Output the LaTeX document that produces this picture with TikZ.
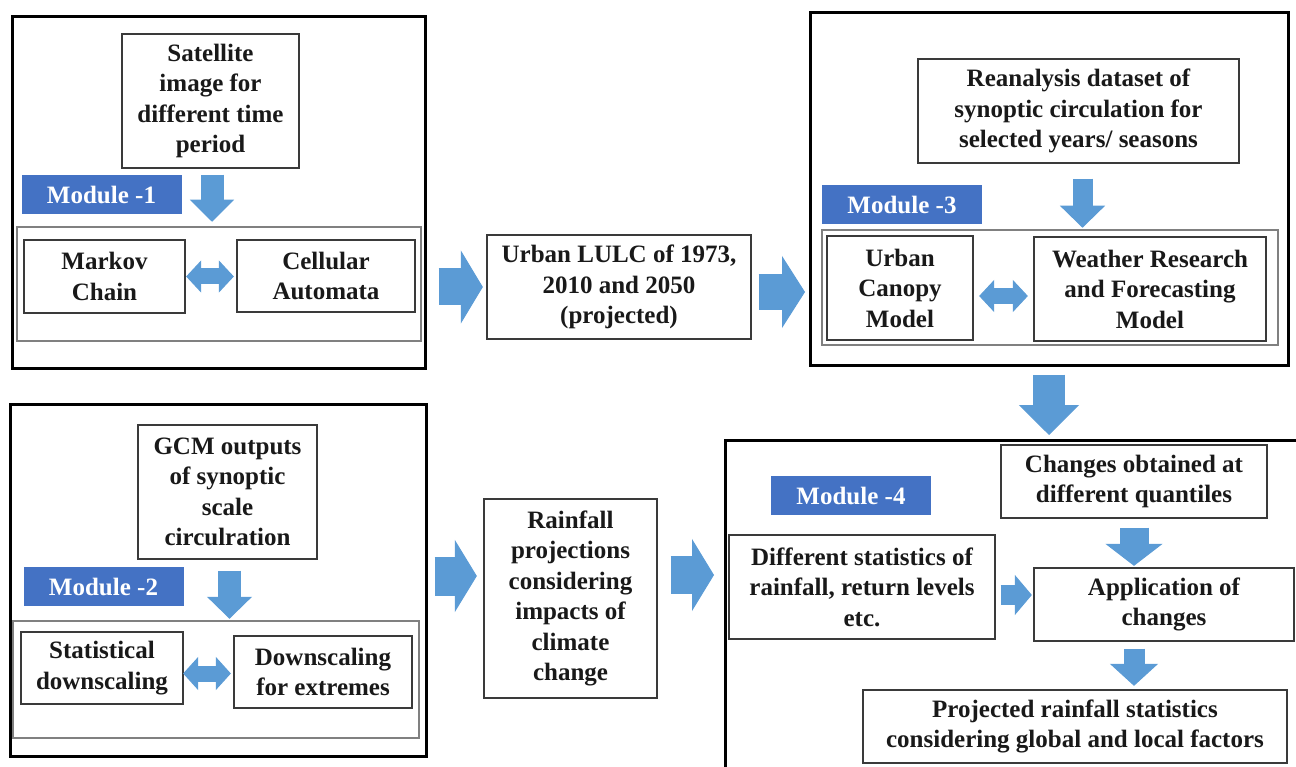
\documentclass[tikz,border=0pt]{standalone}
\usepackage{fontspec}
\setmainfont{Liberation Serif}
\usetikzlibrary{arrows.meta,positioning}
\definecolor{arrblue}{HTML}{5B9BD5}
\definecolor{modblue}{HTML}{4472C4}
\definecolor{boxgray}{HTML}{3A3A3A}

\begin{document}
\begin{tikzpicture}[
  x=1pt, y=-1pt,
  every node/.style={font=\bfseries\fontsize{25}{30.5}\selectfont,
                     align=center, inner sep=0pt, text=black!90},
  frame/.style 2 args={draw=black, line width=3pt,
                       minimum width=#1, minimum height=#2},
  inner/.style 2 args={draw=gray, line width=1.5pt,
                       minimum width=#1, minimum height=#2},
  box/.style 2 args={draw=boxgray, line width=1.3pt, fill=white,
                     minimum width=#1, minimum height=#2},
  modlab/.style={fill=modblue, text=white,
                 minimum width=160pt, minimum height=39pt},
  barrow/.style n args={3}{draw=arrblue, line width=#1,
                 -{Triangle[width=#2, length=#3, line width=1pt, sep=-1.5pt]}},
  dbarrow/.style n args={3}{draw=arrblue, line width=#1,
                 {Triangle[width=#2, length=#3, line width=1pt, sep=-1.5pt]}-{Triangle[width=#2, length=#3, line width=1pt, sep=-1.5pt]}}
]
\useasboundingbox (0,0) rectangle (1296,767);
%% module 1
\node[frame={413pt}{351pt}] (m1) at (218.5,192.5) {};
\node[inner={404pt}{114pt}] (m1in) at (219,284) {};
\node[box={177pt}{134pt}] (sat) at (210.5,101) {Satellite\\image for\\different time\\period};
\node[modlab] (mod1) at (101.5,195) {Module -1};
\node[box={161pt}{73pt}] (markov) at (104.5,276.5) {Markov\\Chain};
\node[box={178pt}{72pt}] (cell) at (326,276) {Cellular\\Automata};
\draw[barrow={23pt}{44pt}{22pt}, shorten <=6pt, shorten >=6pt]
  ([xshift=1.5pt]sat.south) -- ([xshift=1.5pt]sat.south |- m1in.north);
\draw[dbarrow={16pt}{32pt}{15pt}, shorten <=2pt, shorten >=4pt]
  (markov.east) -- (markov.east -| cell.west);
%% land use output
\node[box={264pt}{104pt}] (lulc) at (619,287) {Urban LULC of 1973,\\2010 and 2050\\(projected)};
\draw[barrow={37pt}{73pt}{22pt}, shorten <=12pt, shorten >=5pt]
  (m1.east |- lulc.west) -- (lulc.west);
%% module 3
\node[frame={478pt}{352pt}] (m3) at (1049,189) {};
\node[inner={456pt}{115pt}] (m3in) at (1050,287.5) {};
\node[box={321pt}{104pt}] (rean) at (1078.5,111) {Reanalysis dataset of\\synoptic circulation for\\selected years/ seasons};
\node[modlab] (mod3) at (902,204.5) {Module -3};
\node[box={146pt}{104pt}] (ucm) at (900,288) {Urban\\Canopy\\Model};
\node[box={232pt}{104pt}] (wrf) at (1150,289) {Weather Research\\and Forecasting\\Model};
\draw[barrow={36pt}{72pt}{23pt}, shorten <=7pt, shorten >=5pt]
  ([yshift=-5pt]lulc.east) -- ([yshift=-5pt]lulc.east -| m3.west);
\draw[barrow={20pt}{45pt}{22pt}, shorten <=15pt, shorten >=3pt]
  ([xshift=4pt]rean.south) -- ([xshift=4pt]rean.south |- m3in.north);
\draw[dbarrow={16pt}{32pt}{15pt}, shorten <=7pt, shorten >=7pt]
  ([yshift=-8pt]ucm.east) -- ([yshift=-8pt]ucm.east -| wrf.west);
%% module 2
\node[frame={416pt}{352pt}] (m2) at (218,580) {};
\node[inner={406pt}{117pt}] (m2in) at (216,679.5) {};
\node[box={179pt}{134pt}] (gcm) at (227.5,492) {GCM outputs\\of synoptic\\scale\\circulration};
\node[modlab] (mod2) at (103.5,586.5) {Module -2};
\node[box={162pt}{72pt}] (statd) at (102,668) {Statistical\\downscaling};
\node[box={178pt}{72pt}] (dsext) at (323,672) {Downscaling\\for extremes};
\draw[barrow={23pt}{45pt}{22pt}, shorten <=11pt, shorten >=3pt]
  ([xshift=2pt]gcm.south) -- ([xshift=2pt]gcm.south |- m2in.north);
\draw[dbarrow={16pt}{33pt}{15pt}, shorten <=1pt, shorten >=4pt]
  ([yshift=-5.5pt]statd.east) -- ([yshift=-5.5pt]statd.east -| dsext.west);
%% rainfall projections
\node[box={173pt}{199pt}] (rain) at (570.5,598.5) {Rainfall\\projections\\considering\\impacts of\\climate\\change};
\draw[barrow={39pt}{72pt}{22pt}, shorten <=7pt, shorten >=8pt]
  ([yshift=4pt]m2.east) -- ([yshift=4pt]m2.east -| rain.west);
%% module 4
\node[frame={600pt}{360pt}] (m4) at (1025,620) {};
\node[modlab] (mod4) at (851,495.5) {Module -4};
\node[box={266pt}{73pt}] (chg) at (1134,481.5) {Changes obtained at\\different quantiles};
\node[box={266pt}{104pt}] (dstat) at (862,587) {Different statistics of\\rainfall, return levels\\etc.};
\node[box={260pt}{73pt}] (appl) at (1164,604.5) {Application of\\changes};
\node[box={424pt}{73pt}] (proj) at (1075,726.5) {Projected rainfall statistics\\considering global and local factors};
\draw[barrow={38pt}{72pt}{22pt}, shorten <=13pt, shorten >=11pt]
  ([yshift=23.5pt]rain.east) -- ([yshift=23.5pt]rain.east -| m4.west);
\draw[barrow={32pt}{60pt}{30pt}, shorten <=8pt, shorten >=5pt]
  (m3.south) -- (m3.south |- m4.north);
\draw[barrow={29pt}{57pt}{22pt}, shorten <=9pt, shorten >=3pt]
  (chg.south) -- (chg.south |- appl.north);
\draw[barrow={20pt}{40pt}{17pt}, shorten <=5pt, shorten >=3pt]
  ([yshift=-8pt]dstat.east) -- ([yshift=-8pt]dstat.east -| appl.west);
\draw[barrow={21pt}{48pt}{22pt}, shorten <=7pt, shorten >=5pt]
  ([xshift=-30pt]appl.south) -- ([xshift=-30pt]appl.south |- proj.north);
\end{tikzpicture}
\end{document}
